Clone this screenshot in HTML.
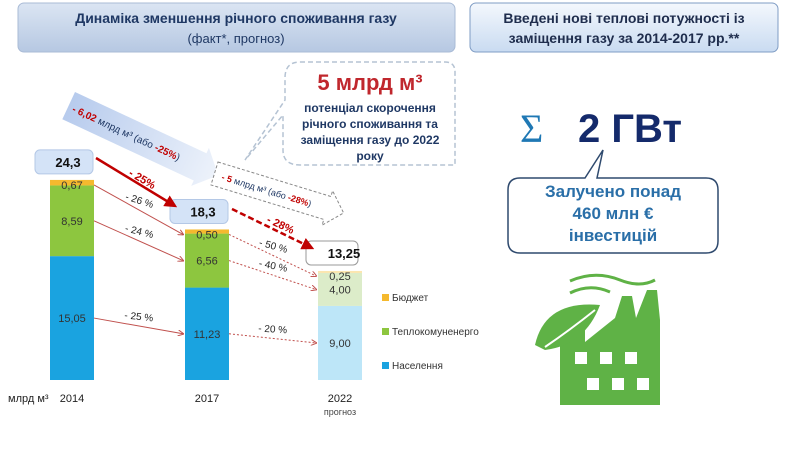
<!DOCTYPE html>
<html><head><meta charset="utf-8"><style>
body{margin:0;width:800px;height:450px;overflow:hidden;background:#fff;font-family:"Liberation Sans",sans-serif}
</style></head><body>
<svg id="s" width="800" height="450" viewBox="0 0 800 450" font-family="Liberation Sans, sans-serif">
<defs>
<linearGradient id="hg" x1="0" y1="0" x2="0" y2="1"><stop offset="0" stop-color="#dbe5f3"/><stop offset="1" stop-color="#b6c8e2"/></linearGradient>
<linearGradient id="hg2" x1="0" y1="0" x2="0" y2="1"><stop offset="0" stop-color="#f4f8fd"/><stop offset="1" stop-color="#c9dbf1"/></linearGradient>
<linearGradient id="ag" x1="0" y1="0" x2="1" y2="0"><stop offset="0" stop-color="#b7cbed"/><stop offset="1" stop-color="#eef3fb"/></linearGradient>
<marker id="mr" markerWidth="6" markerHeight="6" refX="5" refY="3" orient="auto"><path d="M0,0 L6,3 L0,6" fill="none" stroke="#c0504d" stroke-width="1"/></marker>
<marker id="mb" markerWidth="5" markerHeight="5" refX="4" refY="2.5" orient="auto"><path d="M0,0 L5,2.5 L0,5 z" fill="#c00000"/></marker>
</defs>
<g>
<rect x="18" y="3" width="437" height="49" rx="6" fill="url(#hg)" stroke="#a9bbd6"/>
<text x="236" y="23" text-anchor="middle" font-size="14" font-weight="bold" fill="#1f3864">Динаміка зменшення  річного споживання газу</text>
<text x="236" y="43" text-anchor="middle" font-size="13" fill="#1f3864">(факт*, прогноз)</text>
</g>
<g>
<rect x="470" y="3" width="308" height="49" rx="6" fill="url(#hg2)" stroke="#7f9cc4"/>
<text x="624" y="23" text-anchor="middle" font-size="14" font-weight="bold" fill="#1f2d4d">Введені нові теплові потужності із</text>
<text x="624" y="43" text-anchor="middle" font-size="14" font-weight="bold" fill="#1f2d4d">заміщення газу за 2014-2017 рр.**</text>
</g>
<g>
<path d="M300,62 H445 Q455,62 455,72 V165 H300 Q283,165 283,150 V115 L245,160 L285,100 V78 Q285,62 300,62 Z" fill="#fff" stroke="#b5c3d3" stroke-width="1.5" stroke-dasharray="5,3"/>
<text x="370" y="90" text-anchor="middle" font-size="22" font-weight="bold" fill="#c0272d">5 млрд м³</text>
<text x="370" y="112" text-anchor="middle" font-size="12" font-weight="bold" fill="#1f3864">потенціал скорочення</text>
<text x="370" y="128" text-anchor="middle" font-size="12" font-weight="bold" fill="#1f3864">річного споживання та</text>
<text x="370" y="144" text-anchor="middle" font-size="12" font-weight="bold" fill="#1f3864">заміщення газу до 2022</text>
<text x="370" y="160" text-anchor="middle" font-size="12" font-weight="bold" fill="#1f3864">року</text>
</g>
<g transform="translate(75,92) rotate(25)">
<path d="M0,0 H145 V-6 L165,15 L145,36 V30 H0 Z" fill="url(#ag)"/>
<text x="5" y="19" font-size="10" fill="#1f3864"><tspan fill="#c00000" font-weight="bold">- 6,02</tspan> млрд м³ (або <tspan fill="#c00000" font-weight="bold">-25%</tspan>)</text>
</g>
<g transform="translate(218,162) rotate(17)">
<path d="M0,0 H118 V-6 L135,12 L118,30 V24 H0 Z" fill="#fff" stroke="#888" stroke-dasharray="3,2"/>
<text x="8" y="16" font-size="9" fill="#1f3864"><tspan fill="#c00000" font-weight="bold">- 5</tspan> млрд м³ (або <tspan fill="#c00000" font-weight="bold">-28%</tspan>)</text>
</g>
<g id="bars"></g>
<g>
<line x1="96" y1="158" x2="175" y2="206" stroke="#c00000" stroke-width="2.5" marker-end="url(#mb)"/>
<text x="128" y="175" font-size="11" font-weight="bold" fill="#c00000" transform="rotate(30 128 175)">- 25%</text>
<line x1="232" y1="209" x2="312" y2="248" stroke="#c00000" stroke-width="2.5" stroke-dasharray="6,3" marker-end="url(#mb)"/>
<text x="266" y="222" font-size="11" font-weight="bold" fill="#c00000" transform="rotate(25 266 222)">- 28%</text>
</g>
<g>
<rect x="382" y="294" width="7" height="7" fill="#f5b92e"/><text x="392" y="301" font-size="10" fill="#333">Бюджет</text>
<rect x="382" y="328" width="7" height="7" fill="#8dc63f"/><text x="392" y="335" font-size="10" fill="#333">Теплокомуненерго</text>
<rect x="382" y="362" width="7" height="7" fill="#1aa3e0"/><text x="392" y="369" font-size="10" fill="#333">Населення</text>
</g>
<text x="8" y="402" font-size="11" fill="#222">млрд м³</text>
<g>
<text x="520" y="142" font-size="40" fill="#1f78b4" font-family="Liberation Serif, serif">Σ</text>
<text x="578" y="142" font-size="40" font-weight="bold" fill="#142a6b">2 ГВт</text>
</g>
<g>
<path d="M520,178 H585 L603,150 L597,178 H706 Q718,178 718,190 V241 Q718,253 706,253 H520 Q508,253 508,241 V190 Q508,178 520,178 Z" fill="#fff" stroke="#2f4a6e" stroke-width="1.5"/>
<text x="613" y="197" text-anchor="middle" font-size="17" font-weight="bold" fill="#2a6fa8">Залучено понад</text>
<text x="613" y="219" text-anchor="middle" font-size="17" font-weight="bold" fill="#2a6fa8">460 млн €</text>
<text x="613" y="241" text-anchor="middle" font-size="17" font-weight="bold" fill="#2a6fa8">інвестицій</text>
</g>
<g fill="#5fb246">
<path d="M570,281 Q595,270 620,280 Q640,288 655,280" fill="none" stroke="#5fb246" stroke-width="3"/>
<path d="M570,293 Q590,283 610,292" fill="none" stroke="#5fb246" stroke-width="3"/>
<path d="M560,405 V340 L585,325 V342 L615,318 L622,296 H632 L636,318 L647,290 H657 L660,320 V405 Z"/>
<path d="M535,345 Q545,300 600,305 Q585,345 545,350 Z"/>
<g fill="#fff"><rect x="575" y="352" width="12" height="12"/><rect x="600" y="352" width="12" height="12"/><rect x="625" y="352" width="12" height="12"/><rect x="587" y="378" width="12" height="12"/><rect x="612" y="378" width="12" height="12"/><rect x="637" y="378" width="12" height="12"/></g>
<path d="M545,347 Q570,330 595,310" fill="none" stroke="#fff" stroke-width="2"/>
</g>
</svg>
<script>
const years=["2014","2017","2022"];
const budget=[0.67,0.50,0.25];
const heat=[8.59,6.56,4.00];
const pop=[15.05,11.23,9.00];
const totals=["24,3","18,3","13,25"];
const budgetLbl=["0,67","0,50","0,25"], heatLbl=["8,59","6,56","4,00"], popLbl=["15,05","11,23","9,00"];
const heatPct=["- 24 %","- 40 %"], budPct=["- 26 %","- 50 %"], popPct=["- 25 %","- 20 %"];
const NS="http://www.w3.org/2000/svg";
const base=380, k=8.23, xs=[50,185,318], bw=44;
const y=v=>base-v*k;
const g=document.getElementById('bars');
function el(t,a,p){const e=document.createElementNS(NS,t);for(const n in a)e.setAttribute(n,a[n]);(p||g).appendChild(e);return e;}
const cols=[["#1aa3e0","#8dc63f","#f5b92e"],["#1aa3e0","#8dc63f","#f5b92e"],["#bde6f8","#dcecc9","#fbe6b0"]];
const tops=[];
for(let i=0;i<3;i++){
  const segs=[pop[i],heat[i],budget[i]];const lbls=[popLbl[i],heatLbl[i],budgetLbl[i]];
  let acc=0;const mids=[];
  for(let j=0;j<3;j++){
    const r=el('rect',{x:xs[i],y:y(acc+segs[j]),width:bw,height:segs[j]*k,fill:cols[i][j]});
    
    
    const m=j==2?y(acc+segs[j])+9:y(acc+segs[j]/2)+4;mids.push(m);
    const t=el('text',{x:xs[i]+bw/2,y:m,'text-anchor':'middle','font-size':11,fill:'#333'});t.textContent=lbls[j];
    
    
    acc+=segs[j];
  }
  tops.push({acc,mids});
  const ty=y(acc)-30;
  const b=el('rect',{x:xs[i]-12+(i==2?0:-3),y:ty,width:i==2?52:58,height:24,rx:5,fill:i==2?'#fff':'#d4e3f7',stroke:i==2?'#999':'#b4c8e6'});
  
  
  const tt=el('text',{x:xs[i]+bw/2-(i==2?-4:4),y:ty+17,'text-anchor':'middle','font-size':13,'font-weight':'bold',fill:'#111'});tt.textContent=totals[i];
  
  
  const yl=el('text',{x:xs[i]+bw/2,y:402,'text-anchor':'middle','font-size':11,fill:'#222'});yl.textContent=years[i];
  
  
}
const pr=el('text',{x:xs[2]+bw/2,y:415,'text-anchor':'middle','font-size':9,fill:'#444'});pr.textContent='прогноз';


const pcts=[popPct,heatPct,budPct];
for(let i=0;i<2;i++)for(let j=0;j<3;j++){
  const x1=xs[i]+bw,y1=tops[i].mids[j]-4,x2=xs[i+1]-2,y2=tops[i+1].mids[j]-4;
  const l=el('line',{x1,y1,x2,y2,stroke:'#c0504d','stroke-width':1,'marker-end':'url(#mr)'});
  if(i==1)l.setAttribute('stroke-dasharray','2,2');
  
  
  const mx=(x1+x2)/2,my=(y1+y2)/2-6;
  const a=Math.atan2(y2-y1,x2-x1)*180/Math.PI;
  const t=el('text',{x:mx,y:my,'text-anchor':'middle','font-size':10,fill:'#222',transform:`rotate(${a*0.6} ${mx} ${my})`});t.textContent=pcts[j][i];
  
  
}
</script>
</body></html>
